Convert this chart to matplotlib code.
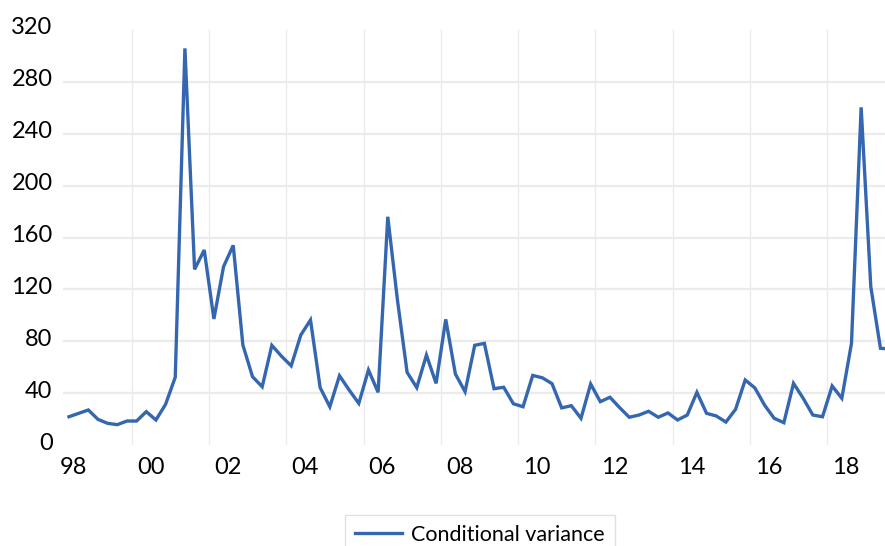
import matplotlib
matplotlib.use("Agg")
from matplotlib import pyplot as plt
import matplotlib.transforms as mtransforms

# quarterly conditional variance
cond_var = [22.0, 24.6, 27.2, 20.0, 16.9, 15.9, 18.7, 18.7, 25.9, 19.5,
            31.6, 52.4, 305.7, 135.5, 150.4, 97.3, 137.6, 154.0, 77.2, 52.8,
            45.1, 77.0, 68.6, 61.2, 85.0, 96.5, 44.4, 29.7, 53.6, 42.6,
            32.3, 58.0, 40.8, 176.0, 111.9, 56.2, 44.4, 69.5, 47.7, 97.0,
            54.9, 41.3, 77.0, 78.5, 43.6, 44.7, 32.0, 29.7, 53.8, 52.0,
            47.5, 28.8, 30.5, 20.8, 47.2, 33.6, 37.0, 29.0, 21.6, 23.3,
            26.2, 21.6, 24.9, 19.5, 23.3, 40.8, 24.6, 22.6, 17.9, 27.7,
            50.3, 44.2, 31.0, 20.8, 17.4, 47.7, 36.2, 23.3, 22.0, 45.7,
            36.2, 78.5, 260.3, 122.1, 74.7, 74.2]
year_labels = ['98', '00', '02', '04', '06', '08', '10', '12', '14', '16', '18']
y_ticks = [0, 40, 80, 120, 160, 200, 240, 280, 320]

line_color = '#3566B0'
grid_color = '#EBEBEB'

plt.rcParams['font.family'] = ['Lato', 'DejaVu Sans']

W, H = 885, 546
fig = plt.figure(figsize=(W / 100, H / 100), dpi=100)
# plot area in pixels: left 63, right past the edge, top 30, bottom 445
ax = fig.add_axes([63 / W, (H - 445.3) / H, 1 - 63 / W, (445.3 - 29.8) / H])

quarters = list(range(len(cond_var)))
ax.plot(quarters, cond_var, color=line_color, lw=2.4, solid_joinstyle='miter',
        label='Conditional variance', zorder=3)

ax.set_xlim(-0.62, 84.47)
ax.set_ylim(0, 320)

# labels every 8 quarters, gridlines between
ax.set_xticks([0.45 + 8 * i for i in range(len(year_labels))])
ax.set_xticklabels(year_labels)
ax.set_xticks([6.5 + 8 * i for i in range(10)], minor=True)
ax.set_yticks(y_ticks)

ax.tick_params(axis='both', which='both', length=0, labelsize=17, colors='black')
ax.tick_params(axis='y', pad=7.5)
ax.tick_params(axis='x', pad=8.5)

ax.xaxis.grid(True, which='minor', color=grid_color, lw=1.0)
ax.yaxis.grid(True, which='major', color=grid_color, lw=1.6)
ax.set_axisbelow(True)
gl = ax.get_ygridlines()
gl[0].set_visible(False)
gl[-1].set_visible(False)

# excel draws the value labels slightly above their gridline
shift = mtransforms.ScaledTranslation(0, 3 / 72, fig.dpi_scale_trans)
for lab in ax.get_yticklabels():
    lab.set_transform(lab.get_transform() + shift)

for s in ax.spines.values():
    s.set_visible(False)

leg = fig.legend(loc='upper center', bbox_to_anchor=(480 / W, 1 - 515 / H),
                 borderaxespad=0, fontsize=15.5, frameon=True, fancybox=False,
                 handlelength=2.2, handletextpad=0.42, borderpad=0.45)
leg.get_frame().set_edgecolor('#D9D9D9')
leg.get_frame().set_linewidth(1.0)

fig.savefig('out.png', dpi=100)
